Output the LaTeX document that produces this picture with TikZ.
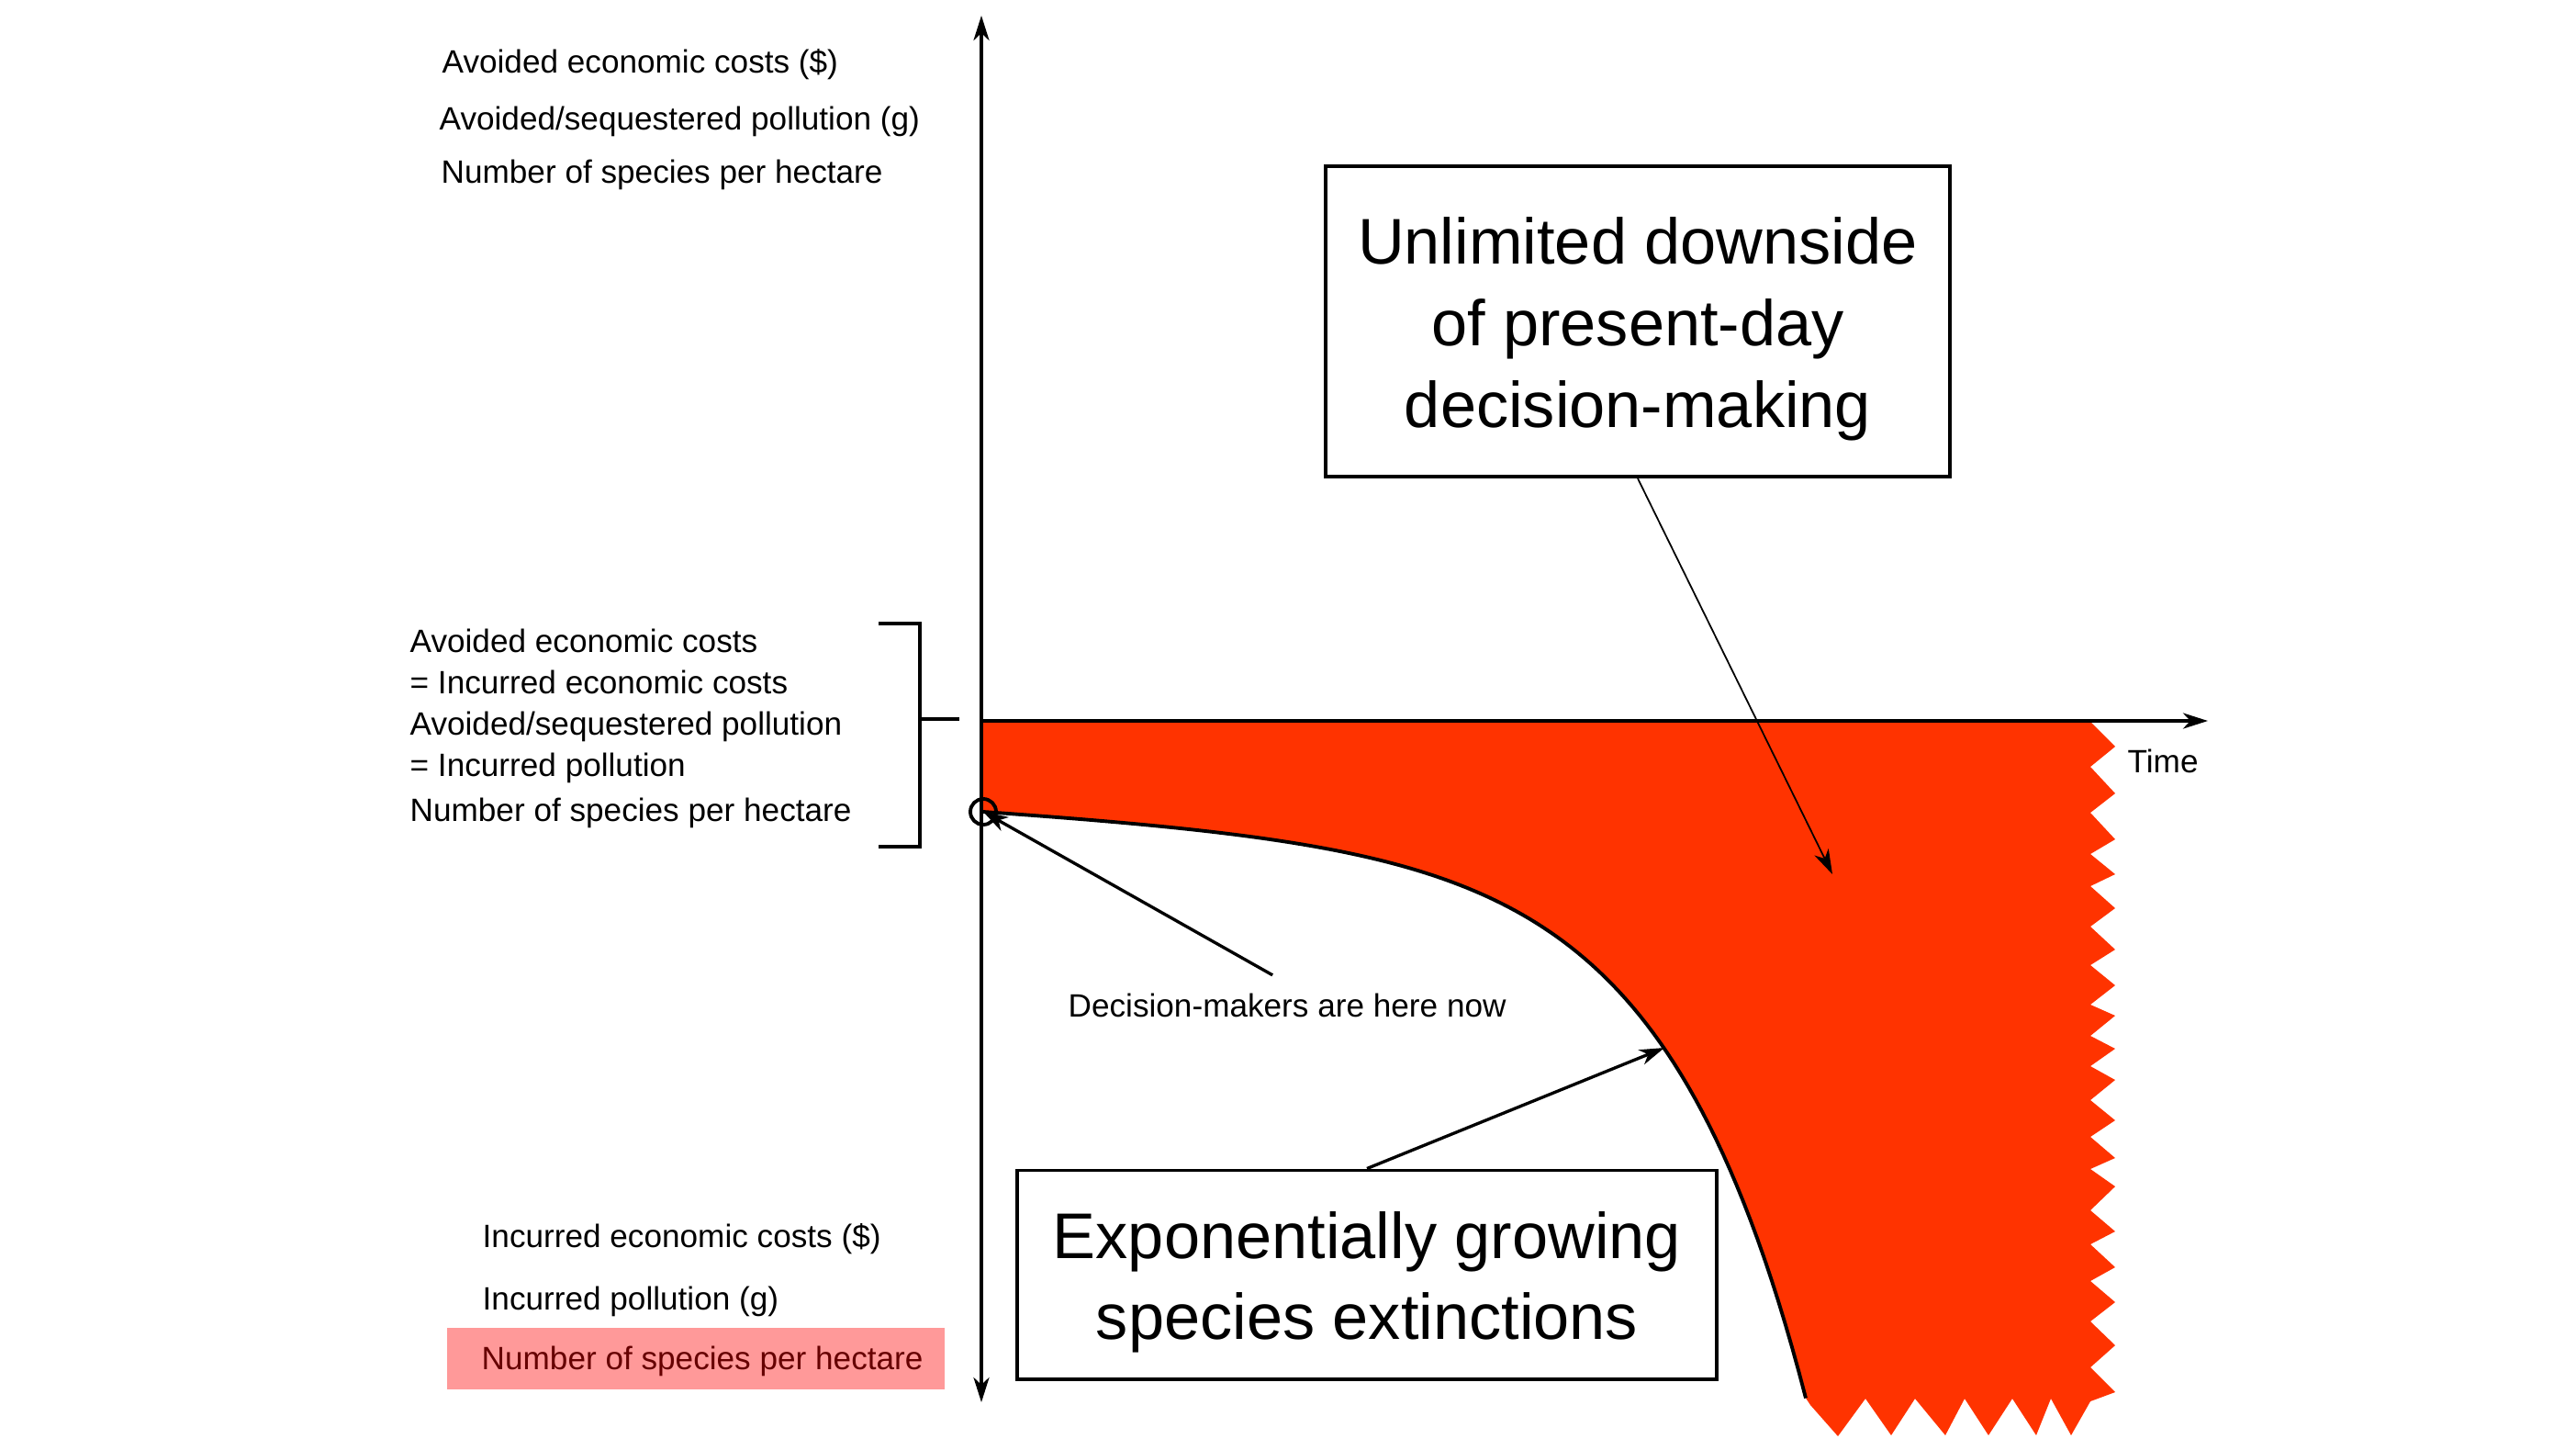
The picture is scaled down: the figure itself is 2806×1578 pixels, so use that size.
\documentclass[tikz,border=0pt]{standalone}
\usepackage{fontspec}
\setmainfont{Liberation Sans}
\usepackage{xcolor}
\usepackage{tikz}
\usetikzlibrary{arrows.meta,positioning,calc}
\definecolor{extred}{HTML}{FF3300}
\newcommand{\capstrut}{\rule{0pt}{19.2pt}}

\begin{document}
\begin{tikzpicture}[
    x=0.01cm, y=-0.01cm,
    >={Stealth[length=2.7mm, width=1.7mm, inset=0.8mm]},
    axis/.style={line width=1.1pt},
    callout/.style={rectangle, draw=black, line width=1.1pt, align=center, font=\fontsize{20}{25.3}\selectfont},
    txt/.style={anchor=base west, inner sep=0pt, font=\fontsize{10}{12}\selectfont},
    arrow/.style={->, line width=0.95pt},
    thinarrow/.style={->, line width=0.5pt}
]
    \useasboundingbox (0,0) rectangle (2806,1578);

    % shaded loss area with torn edges
    \fill[extred] plot[domain=0:896, samples=120] ({1071+\x},{884+1.735*(exp(0.0065*\x)-1)+0.0593*\x})
        -- (1972,1530) -- (2002,1564) -- (2032,1523) -- (2060,1563) -- (2086,1523) -- (2119,1563) -- (2140,1523)
        -- (2166,1563) -- (2192,1523) -- (2218,1563) -- (2234,1523) -- (2256,1563) -- (2277,1526)
        \foreach \ty/\ny in {1516/1489, 1465/1439, 1418/1395, 1380/1355, 1341/1318, 1292/1273, 1261/1238, 1220/1198, 1176/1161, 1142/1128, 1106/1094, 1073/1051, 1034/1009, 989/965, 952/930, 914/885, 864/835, 813/786} { -- (2304,\ty) -- (2277,\ny) }
        -- (1069,786) -- cycle;
    \draw[axis] plot[domain=0:896, samples=120] ({1071+\x},{884+1.735*(exp(0.0065*\x)-1)+0.0593*\x});

    % axes
    \draw[axis, <->] (1069,1527) -- (1069,17);
    \draw[axis, ->] (1069,785) -- (2405,785);
    \node[txt] (time) at (2317,841) {Time};

    % bracket
    \draw[axis] (957,679) -- (1002,679) -- (1002,922) -- (957,922);
    \draw[axis] (1002,783) -- (1045,783);

    \node[txt] (av1) at (481,79) {Avoided economic costs (\$)};
    \node[txt] (av2) at (478,141) {Avoided/sequestered pollution (g)};
    \node[txt] (av3) at (480,199) {Number of species per hectare};

    \node[txt] (eq1) at (446,710) {Avoided economic costs};
    \node[txt] (eq2) at (446,755) {= Incurred economic costs};
    \node[txt] (eq3) at (446,800) {Avoided/sequestered pollution};
    \node[txt] (eq4) at (446,845) {= Incurred pollution};
    \node[txt] (eq5) at (446,894) {Number of species per hectare};

    \node[txt] (in1) at (525,1358) {Incurred economic costs (\$)};
    \node[txt] (in2) at (525,1426) {Incurred pollution (g)};
    \node[txt] (in3) at (524,1491) {Number of species per hectare};
    \fill[red, opacity=0.4] (487,1446) rectangle (1029,1513);

    % callouts
    \node[circle, draw, line width=1.1pt, minimum size=0.28cm, inner sep=0pt] (here) at (1071,884) {};
    \node[txt] (herenote) at (1163,1107) {Decision-makers are here now};
    \node[callout, minimum width=6.8cm, minimum height=3.38cm] (downside) at (1784,350) {\capstrut Unlimited downside\\of present-day\\decision-making};
    \node[callout, minimum width=7.62cm, minimum height=2.27cm] (growth) at (1489,1388) {\capstrut Exponentially growing\\species extinctions};
    \coordinate (redarea) at (1996,952);
    \coordinate (curvehit) at (1813,1141);

    \draw[arrow] ([xshift=-0.16cm, yshift=0.19cm]herenote.north) -- (here.center);
    \draw[arrow] (growth.north) -- (curvehit);
    \draw[thinarrow] (downside.south) -- (redarea);
\end{tikzpicture}
\end{document}
